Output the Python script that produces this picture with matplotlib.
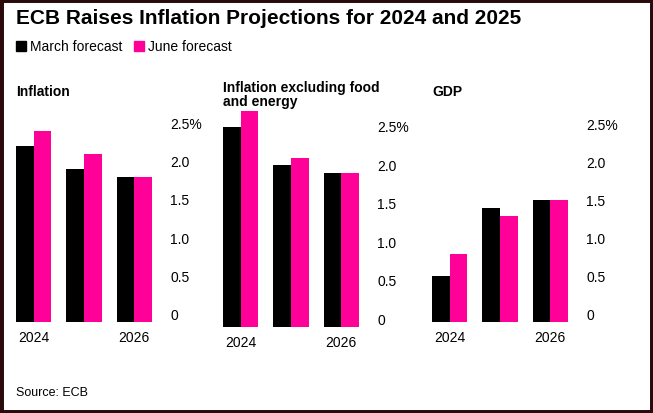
import matplotlib.pyplot as plt
from matplotlib.patches import Rectangle
import numpy as np

plt.rcParams['font.family'] = ['Liberation Sans', 'DejaVu Sans']

years = ['2024', '2025', '2026']
panels = ['Inflation', 'Inflation excluding food\nand energy', 'GDP']
march = [[2.3, 2.0, 1.9], [2.6, 2.1, 2.0], [0.6, 1.5, 1.6]]
june = [[2.5, 2.2, 1.9], [2.8, 2.2, 2.0], [0.9, 1.4, 1.6]]
yticks = [0, 0.5, 1.0, 1.5, 2.0, 2.5]
ytick_labels = ['0', '0.5', '1.0', '1.5', '2.0', '2.5%']

W, H = 653, 414
fig = plt.figure(figsize=(W / 100, H / 100), dpi=100)
fig.patches.append(Rectangle((0, 0), 1, 1, transform=fig.transFigure,
                             fill=False, edgecolor='#2a0a0a', linewidth=5))

fig.text(16 / W, 1 - 19 / H, 'ECB Raises Inflation Projections for 2024 and 2025',
         fontsize=15, fontweight='bold', va='center')
fig.patches.append(Rectangle((16 / W, 1 - 52 / H), 10 / W, 10 / H, transform=fig.transFigure, color='black'))
fig.text(30 / W, 1 - 47 / H, 'March forecast', fontsize=10, va='center')
fig.patches.append(Rectangle((134 / W, 1 - 52 / H), 10 / W, 10 / H, transform=fig.transFigure, color='#ff0099'))
fig.text(148 / W, 1 - 47 / H, 'June forecast', fontsize=10, va='center')
fig.text(16 / W, 1 - 393 / H, 'Source: ECB', fontsize=9, va='center')

# left, right of bars, baseline, pixel per unit
geom = [(16, 152, 323, 76.4), (223, 359, 328, 77), (432, 568, 323, 76)]
title_y = [92, 95, 92]
w = 0.35
for i, (x0, x1, base, ppu) in enumerate(geom):
    top = base - 2.8 * ppu
    ax = fig.add_axes([x0 / W, 1 - base / H, (x1 - x0) / W, (base - top) / H])
    x = np.arange(3)
    ax.bar(x - w / 2, march[i], w, color='black')
    ax.bar(x + w / 2, june[i], w, color='#ff0099')
    ax.set_xlim(-w, 2 + w)
    ax.set_ylim(0, 2.8)
    for s in ax.spines.values():
        s.set_visible(False)
    ax.set_xticks([0, 2])
    ax.set_xticklabels(['2024', '2026'], fontsize=10)
    ax.tick_params(axis='x', length=0, pad=6)
    ax.yaxis.tick_right()
    ax.set_yticks(yticks)
    ax.set_yticklabels(ytick_labels, fontsize=10, va='bottom')
    ax.tick_params(axis='y', length=0, pad=13)
    fig.text(x0 / W, 1 - title_y[i] / H, panels[i], fontsize=10, fontweight='bold',
             va='center', linespacing=1.0)

fig.savefig('out.png', dpi=100)
